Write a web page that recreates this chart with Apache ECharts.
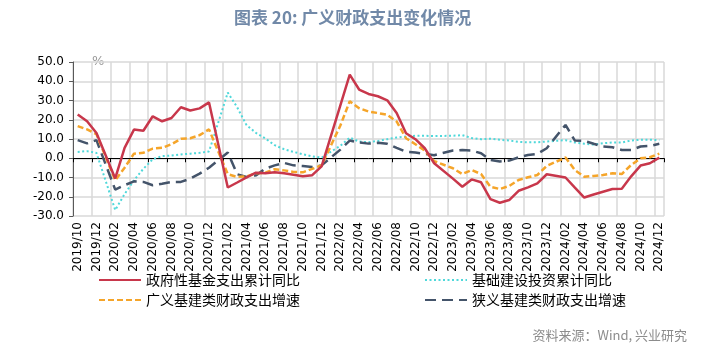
<!DOCTYPE html>
<html>
<head>
<meta charset="utf-8">
<script src="https://cdn.jsdelivr.net/npm/echarts@6/dist/echarts.min.js"></script>
<style>
html,body{margin:0;padding:0;background:#fff;}
#c{width:719px;height:349px;}
</style>
</head>
<body>
<div id="c"></div>
<script>
// ---- data ----
var categories = [];
(function(){
  for (var y = 2019; y <= 2024; y++) {
    for (var m = 1; m <= 12; m++) {
      if (y === 2019 && m < 10) continue;
      categories.push(y + '/' + (m < 10 ? '0' + m : '' + m));
    }
  }
})();

var govFund = [22.7,19.2,13.1,null,-10.5,5.4,14.9,14.3,21.8,19.2,20.9,26.5,24.8,25.9,29.0,null,
  -15.2,-12.6,-9.9,-7.5,-7.8,-7.3,-7.8,-8.6,-9.3,-8.8,-4.2,null,
  27.5,43.4,35.7,33.4,32.2,30.1,23.5,13.0,9.9,5.2,-2.6,null,
  -10.6,-14.8,-11.0,-12.5,-21.2,-23.1,-21.7,-16.9,-15.1,-13.0,-8.3,null,
  -10.0,-15.3,-20.4,-18.8,-17.4,-16.0,-15.8,-9.4,-3.8,-2.6,0.3];

var infraInvest = [3.3,3.7,2.8,null,-26.9,-18.6,-11.5,-5.5,-0.5,1.1,1.4,2.0,2.4,2.8,3.5,null,
  34.1,26.5,17.2,13.2,10.3,6.8,4.7,3.3,2.1,1.0,0.3,null,
  6.5,10.7,8.7,8.3,9.0,9.9,10.8,11.3,11.7,11.7,11.5,null,
  11.7,12.0,10.5,9.9,10.1,9.6,9.2,8.5,8.3,8.3,8.7,null,
  9.4,8.2,7.5,7.1,7.8,8.2,8.2,9.2,9.6,9.6,9.4];

var broadInfra = [16.7,15.0,12.5,null,-11.5,-4.9,2.4,2.8,5.0,5.4,7.3,10.1,10.4,12.0,15.0,null,
  -8.3,-9.7,-9.4,-7.8,-7.5,-5.7,-6.3,-7.1,-7.3,-5.5,-3.7,null,
  17.0,29.6,26.0,24.3,23.5,22.6,19.1,10.4,7.3,4.0,-1.5,null,
  -5.2,-8.2,-6.1,-8.2,-14.8,-16.0,-14.4,-11.3,-9.9,-8.7,-4.0,null,
  0.4,-6.1,-9.6,-9.2,-8.7,-7.8,-8.2,-3.5,0.0,0.5,2.4];

var narrowInfra = [9.4,7.7,9.4,null,-16.3,-14.0,-12.0,-12.3,-14.0,-13.2,-12.3,-12.3,-10.6,-8.0,-4.9,null,
  3.0,-8.3,-9.7,-8.9,-5.4,-3.7,-2.4,-3.7,-4.0,-4.5,-3.7,null,
  4.5,9.2,8.2,7.6,8.0,7.5,5.4,3.4,3.0,2.3,1.6,null,
  4.0,4.3,4.0,2.6,-0.9,-1.7,-1.2,0.5,1.7,2.3,5.2,null,
  17.3,9.2,9.0,7.5,6.1,5.7,4.3,4.3,6.1,6.4,7.5];

var seriesNames = ['政府性基金支出累计同比','基础建设投资累计同比','广义基建类财政支出增速','狭义基建类财政支出增速'];
var titleText = '图表 20: 广义财政支出变化情况';
var sourceText = '资料来源：Wind, 兴业研究';

// ---- chart ----
var chart = echarts.init(document.getElementById('c'));
var cjk = '"Noto Sans CJK SC", sans-serif';
var gridColor = '#d9d9d9';

function legendAt(name, left, top) {
  return {
    data: [name], left: left, top: top, itemWidth: 42, itemHeight: 14, itemGap: 0,
    padding: 0, selectedMode: false,
    itemStyle: {opacity: 0},
    textStyle: {fontSize: 14, color: '#000', fontFamily: cjk}
  };
}

var option = {
  animation: false,
  backgroundColor: '#fff',
  title: {
    text: titleText, left: 229, top: 4,
    textStyle: {fontSize: 17, fontWeight: 'bold', color: '#7189a8', fontFamily: cjk}
  },
  legend: [
    legendAt(seriesNames[0], 98, 273),
    legendAt(seriesNames[1], 424, 273),
    legendAt(seriesNames[2], 98, 293),
    legendAt(seriesNames[3], 424, 293)
  ],
  grid: {left: 73, right: 55, top: 62, bottom: 133, containLabel: false},
  xAxis: [{
    type: 'category', data: categories, boundaryGap: true, position: 'bottom',
    axisLine: {show: true, onZero: true, lineStyle: {color: '#000', width: 1}},
    axisTick: {show: true, interval: 1, length: 4, lineStyle: {color: '#000'}},
    axisLabel: {show: false},
    splitLine: {show: true, interval: 1, lineStyle: {color: gridColor, width: 1.5}}
  }, {
    type: 'category', data: categories, boundaryGap: true, position: 'bottom',
    axisLine: {show: false, onZero: false},
    axisTick: {show: false},
    axisLabel: {show: true, interval: 1, rotate: 90, fontSize: 12, color: '#000', margin: 6,
      fontFamily: '"DejaVu Sans", sans-serif'},
    splitLine: {show: false}
  }],
  yAxis: {
    type: 'value', min: -30, max: 50, interval: 10,
    axisLine: {show: true, lineStyle: {color: '#595959', width: 1}},
    axisTick: {show: true, length: 4, lineStyle: {color: '#595959'}},
    axisLabel: {fontSize: 12, color: '#000', margin: 9, fontFamily: '"DejaVu Sans", sans-serif',
      formatter: function (v) { return v.toFixed(1); }},
    splitLine: {show: true, lineStyle: {color: gridColor, width: 1.5}}
  },
  graphic: [
    {type: 'text', left: 92, top: 55, style: {text: '%', fontSize: 13, fill: '#999', fontFamily: '"DejaVu Sans", sans-serif'}},
    {type: 'text', right: 32, top: 329, style: {text: sourceText, fontSize: 13, fill: '#8c8c8c', fontFamily: cjk}}
  ],
  series: [
    {name: seriesNames[1], type: 'line', data: infraInvest, connectNulls: true, symbol: 'none',
      lineStyle: {color: '#4fd8da', width: 2, type: [2, 2.5]}, itemStyle: {color: '#4fd8da'}, z: 2},
    {name: seriesNames[3], type: 'line', data: narrowInfra, connectNulls: true, symbol: 'none',
      lineStyle: {color: '#44546a', width: 2.5, type: [11, 6]}, itemStyle: {color: '#44546a'}, z: 3},
    {name: seriesNames[2], type: 'line', data: broadInfra, connectNulls: true, symbol: 'none',
      lineStyle: {color: '#f5a52a', width: 2.5, type: [6, 3]}, itemStyle: {color: '#f5a52a'}, z: 4},
    {name: seriesNames[0], type: 'line', data: govFund, connectNulls: true, symbol: 'none',
      lineStyle: {color: '#c8374b', width: 2.5, type: 'solid'}, itemStyle: {color: '#c8374b'}, z: 5}
  ]
};
chart.setOption(option);
</script>
</body>
</html>
